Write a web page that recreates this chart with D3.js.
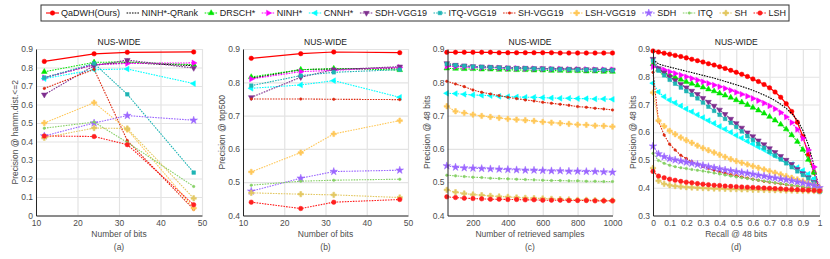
<!DOCTYPE html>
<html>
<head>
<meta charset="UTF-8">
<title>NUS-WIDE precision comparison</title>
<script src="https://cdn.jsdelivr.net/npm/d3@7"></script>
<style>
  body { margin: 0; background: #fff; }
  svg { font-family: "Liberation Sans", Arial, sans-serif; }
</style>
</head>
<body>
<svg width="830" height="259"></svg>
<script>
// ---- data -------------------------------------------------------------
const methods = ["QaDWH(Ours)", "NINH*-QRank", "DRSCH*", "NINH*", "CNNH*", "SDH-VGG19",
  "ITQ-VGG19", "SH-VGG19", "LSH-VGG19", "SDH", "ITQ", "SH", "LSH"];
const colors = ["#ff0000", "#000000", "#00e600", "#ff00ff", "#00ffff", "#7e2f8e",
  "#1fb4b4", "#dd2a12", "#ffc85a", "#9b66ff", "#86d066", "#e3c863", "#ff1f1f"];
const markers = ["circle", "none", "up", "right", "left", "down",
  "square", "dot", "cross", "star", "dot", "cross", "circle"];

const bits = [12, 24, 32, 48];
const hammPrec = [
  [0.833, 0.874, 0.882, 0.884],
  [0.745, 0.815, 0.826, 0.810],
  [0.777, 0.828, 0.830, 0.815],
  [0.745, 0.815, 0.822, 0.825],
  [0.740, 0.788, 0.792, 0.713],
  [0.653, 0.810, 0.840, 0.797],
  [0.745, 0.822, 0.655, 0.232],
  [0.687, 0.790, 0.405, 0.033],
  [0.500, 0.610, 0.465, 0.040],
  [0.430, 0.500, 0.540, 0.515],
  [0.472, 0.505, 0.395, 0.157],
  [0.420, 0.473, 0.470, 0.093],
  [0.430, 0.427, 0.383, 0.058]
];
const top500Prec = [
  [0.872, 0.886, 0.891, 0.889],
  [0.812, 0.838, 0.840, 0.843],
  [0.816, 0.838, 0.841, 0.837],
  [0.810, 0.832, 0.836, 0.845],
  [0.782, 0.792, 0.805, 0.755],
  [0.755, 0.815, 0.838, 0.847],
  [0.790, 0.820, 0.830, 0.838],
  [0.750, 0.750, 0.749, 0.748],
  [0.531, 0.589, 0.645, 0.685],
  [0.473, 0.512, 0.532, 0.536],
  [0.491, 0.503, 0.506, 0.509],
  [0.468, 0.464, 0.462, 0.454],
  [0.440, 0.421, 0.440, 0.448]
];

const samples = [50, 100, 150, 200, 250, 300, 350, 400, 450, 500,
  550, 600, 650, 700, 750, 800, 850, 900, 950, 1000];
const samplePrec = [
  [0.890, 0.890, 0.890, 0.890, 0.890, 0.890, 0.889, 0.889, 0.889, 0.889, 0.889, 0.889, 0.889, 0.888, 0.888, 0.888, 0.888, 0.888, 0.888, 0.888],
  [0.850, 0.848, 0.847, 0.846, 0.845, 0.845, 0.844, 0.843, 0.843, 0.842, 0.842, 0.841, 0.841, 0.840, 0.840, 0.840, 0.839, 0.839, 0.838, 0.838],
  [0.842, 0.841, 0.840, 0.840, 0.839, 0.839, 0.838, 0.838, 0.837, 0.837, 0.836, 0.836, 0.835, 0.835, 0.834, 0.834, 0.833, 0.833, 0.832, 0.832],
  [0.848, 0.847, 0.846, 0.845, 0.844, 0.844, 0.843, 0.842, 0.842, 0.841, 0.841, 0.840, 0.840, 0.840, 0.839, 0.839, 0.839, 0.838, 0.838, 0.838],
  [0.767, 0.766, 0.764, 0.762, 0.761, 0.760, 0.758, 0.757, 0.756, 0.755, 0.755, 0.754, 0.753, 0.752, 0.752, 0.751, 0.751, 0.750, 0.750, 0.749],
  [0.857, 0.852, 0.850, 0.848, 0.847, 0.846, 0.845, 0.844, 0.843, 0.843, 0.842, 0.842, 0.841, 0.841, 0.840, 0.840, 0.839, 0.839, 0.838, 0.838],
  [0.855, 0.851, 0.849, 0.847, 0.846, 0.845, 0.844, 0.843, 0.842, 0.842, 0.841, 0.840, 0.840, 0.839, 0.839, 0.838, 0.838, 0.837, 0.837, 0.836],
  [0.803, 0.795, 0.787, 0.777, 0.770, 0.765, 0.760, 0.755, 0.751, 0.747, 0.744, 0.740, 0.737, 0.734, 0.731, 0.727, 0.725, 0.722, 0.720, 0.717],
  [0.728, 0.713, 0.708, 0.703, 0.699, 0.696, 0.693, 0.690, 0.688, 0.686, 0.684, 0.681, 0.679, 0.677, 0.675, 0.673, 0.672, 0.670, 0.669, 0.667],
  [0.549, 0.545, 0.543, 0.542, 0.541, 0.540, 0.539, 0.538, 0.537, 0.536, 0.536, 0.535, 0.534, 0.534, 0.533, 0.533, 0.532, 0.532, 0.531, 0.530],
  [0.521, 0.519, 0.517, 0.515, 0.514, 0.512, 0.511, 0.510, 0.509, 0.508, 0.507, 0.506, 0.505, 0.505, 0.504, 0.504, 0.503, 0.503, 0.502, 0.502],
  [0.477, 0.470, 0.466, 0.463, 0.461, 0.459, 0.457, 0.456, 0.454, 0.453, 0.452, 0.451, 0.450, 0.449, 0.448, 0.447, 0.447, 0.446, 0.445, 0.445],
  [0.456, 0.454, 0.452, 0.451, 0.450, 0.449, 0.449, 0.448, 0.448, 0.447, 0.447, 0.446, 0.446, 0.446, 0.445, 0.445, 0.445, 0.444, 0.444, 0.444]
];

const recall = [0, 0.033, 0.067, 0.1, 0.133, 0.167, 0.2, 0.233, 0.267, 0.3, 0.333, 0.367, 0.4, 0.433, 0.467,
  0.5, 0.533, 0.567, 0.6, 0.633, 0.667, 0.7, 0.733, 0.767, 0.8, 0.833, 0.867, 0.9, 0.933, 0.967, 1];
const recallPrec = [
  [0.893, 0.889, 0.885, 0.881, 0.877, 0.873, 0.868, 0.863, 0.858, 0.853, 0.847, 0.842, 0.836, 0.830, 0.823, 0.816, 0.809, 0.801, 0.792, 0.783, 0.772, 0.760, 0.745, 0.726, 0.703, 0.675, 0.636, 0.585, 0.520, 0.455, 0.390],
  [0.862, 0.846, 0.840, 0.835, 0.830, 0.825, 0.820, 0.815, 0.810, 0.805, 0.800, 0.795, 0.789, 0.783, 0.777, 0.771, 0.765, 0.758, 0.751, 0.743, 0.734, 0.725, 0.714, 0.701, 0.686, 0.668, 0.643, 0.607, 0.555, 0.480, 0.390],
  [0.846, 0.826, 0.815, 0.806, 0.798, 0.790, 0.782, 0.775, 0.769, 0.762, 0.755, 0.748, 0.740, 0.733, 0.725, 0.716, 0.708, 0.699, 0.689, 0.679, 0.668, 0.656, 0.643, 0.628, 0.611, 0.590, 0.566, 0.537, 0.501, 0.455, 0.390],
  [0.836, 0.830, 0.825, 0.818, 0.812, 0.806, 0.800, 0.794, 0.788, 0.782, 0.776, 0.770, 0.764, 0.758, 0.751, 0.744, 0.737, 0.730, 0.722, 0.714, 0.705, 0.695, 0.684, 0.671, 0.655, 0.635, 0.610, 0.578, 0.536, 0.475, 0.390],
  [0.777, 0.745, 0.728, 0.716, 0.706, 0.695, 0.684, 0.674, 0.663, 0.653, 0.642, 0.632, 0.621, 0.611, 0.600, 0.589, 0.579, 0.568, 0.558, 0.547, 0.537, 0.526, 0.515, 0.505, 0.494, 0.484, 0.473, 0.462, 0.449, 0.432, 0.390],
  [0.864, 0.830, 0.815, 0.800, 0.787, 0.773, 0.761, 0.749, 0.737, 0.723, 0.709, 0.695, 0.681, 0.665, 0.648, 0.632, 0.616, 0.599, 0.585, 0.570, 0.556, 0.542, 0.528, 0.514, 0.500, 0.485, 0.467, 0.452, 0.437, 0.420, 0.390],
  [0.858, 0.822, 0.805, 0.789, 0.775, 0.761, 0.748, 0.735, 0.722, 0.707, 0.692, 0.677, 0.663, 0.648, 0.634, 0.619, 0.603, 0.586, 0.572, 0.558, 0.544, 0.530, 0.516, 0.502, 0.488, 0.474, 0.459, 0.446, 0.433, 0.416, 0.385],
  [0.816, 0.640, 0.590, 0.557, 0.536, 0.517, 0.505, 0.494, 0.485, 0.477, 0.470, 0.463, 0.458, 0.452, 0.447, 0.443, 0.439, 0.435, 0.431, 0.427, 0.423, 0.420, 0.417, 0.414, 0.411, 0.408, 0.405, 0.402, 0.399, 0.396, 0.393],
  [0.743, 0.642, 0.622, 0.605, 0.593, 0.581, 0.571, 0.562, 0.552, 0.543, 0.535, 0.527, 0.519, 0.511, 0.503, 0.496, 0.490, 0.484, 0.478, 0.472, 0.466, 0.460, 0.454, 0.448, 0.442, 0.436, 0.430, 0.424, 0.417, 0.410, 0.400],
  [0.550, 0.522, 0.512, 0.505, 0.500, 0.496, 0.492, 0.488, 0.484, 0.480, 0.476, 0.472, 0.468, 0.464, 0.461, 0.458, 0.455, 0.452, 0.449, 0.445, 0.442, 0.438, 0.435, 0.432, 0.429, 0.425, 0.421, 0.417, 0.413, 0.408, 0.400],
  [0.524, 0.498, 0.488, 0.481, 0.476, 0.472, 0.469, 0.466, 0.463, 0.460, 0.457, 0.453, 0.450, 0.446, 0.442, 0.439, 0.436, 0.433, 0.430, 0.427, 0.424, 0.421, 0.418, 0.415, 0.412, 0.409, 0.406, 0.403, 0.399, 0.395, 0.390],
  [0.471, 0.425, 0.414, 0.409, 0.406, 0.404, 0.402, 0.401, 0.400, 0.399, 0.398, 0.397, 0.397, 0.396, 0.395, 0.395, 0.394, 0.394, 0.393, 0.393, 0.392, 0.392, 0.391, 0.391, 0.390, 0.390, 0.389, 0.389, 0.388, 0.388, 0.387],
  [0.459, 0.442, 0.436, 0.431, 0.427, 0.423, 0.420, 0.418, 0.415, 0.413, 0.411, 0.409, 0.408, 0.406, 0.405, 0.404, 0.403, 0.402, 0.401, 0.400, 0.399, 0.398, 0.397, 0.396, 0.395, 0.394, 0.393, 0.392, 0.391, 0.390, 0.388]
];

const bitTicks = [10, 20, 30, 40, 50];
const sampleTicks = [200, 400, 600, 800, 1000];
const recallTicks = [0, 0.1, 0.2, 0.3, 0.4, 0.5, 0.6, 0.7, 0.8, 0.9, 1];
const yTicksA = [0, 0.1, 0.2, 0.3, 0.4, 0.5, 0.6, 0.7, 0.8, 0.9];
const yTicksBC = [0.4, 0.5, 0.6, 0.7, 0.8, 0.9];
const yTicksD = [0.3, 0.4, 0.5, 0.6, 0.7, 0.8, 0.9];

// ---- layout -----------------------------------------------------------
const svg = d3.select("svg");
const plotTop = 49, plotBottom = 215.5;

const panels = [
  { x0: 36, x1: 202, xs: bits, ys: hammPrec, xDom: [10, 50], yDom: [0, 0.9],
    xt: bitTicks, yt: yTicksA, xLabel: "Number of bits", yLabel: "Precision @ hamm.dist.<=2",
    yLabelX: 15, tag: "(a)" },
  { x0: 243, x1: 408, xs: bits, ys: top500Prec, xDom: [10, 50], yDom: [0.4, 0.9],
    xt: bitTicks, yt: yTicksBC, xLabel: "Number of bits", yLabel: "Precision @ top500",
    yLabelX: 222, tag: "(b)" },
  { x0: 447.5, x1: 612.5, xs: samples, ys: samplePrec, xDom: [54, 1000], yDom: [0.4, 0.9],
    xt: sampleTicks, yt: yTicksBC, xLabel: "Number of retrieved samples", yLabel: "Precision @ 48 bits",
    yLabelX: 427, tag: "(c)" },
  { x0: 653, x1: 819.5, xs: recall, ys: recallPrec, xDom: [0, 1], yDom: [0.3, 0.9],
    xt: recallTicks, yt: yTicksD, xLabel: "Recall @ 48 bits", yLabel: "Precision @ 48 bits",
    yLabelX: 633, tag: "(d)" }
];

function drawMarker(g, type, color, x, y) {
  if (type === "none") return;
  let sym, size, rot = 0;
  if (type === "circle") { sym = d3.symbolCircle; size = 16; }
  else if (type === "dot") { sym = d3.symbolCircle; size = 5; }
  else if (type === "square") { sym = d3.symbolSquare; size = 13; }
  else if (type === "cross") { sym = d3.symbolCross; size = 16; }
  else if (type === "star") { sym = d3.symbolStar; size = 18; }
  else { sym = d3.symbolTriangle; size = 14;
    rot = { up: 0, right: 90, down: 180, left: -90 }[type]; }
  g.append("path")
    .attr("d", d3.symbol().type(sym).size(size)())
    .attr("transform", `translate(${x},${y}) rotate(${rot})`)
    .attr("fill", color)
    .attr("stroke", color)
    .attr("stroke-width", 0.5);
}

panels.forEach(p => {
  const x = d3.scaleLinear().domain(p.xDom).range([p.x0, p.x1]);
  const y = d3.scaleLinear().domain(p.yDom).range([plotBottom, plotTop]);
  const g = svg.append("g");

  // grid
  g.append("g")
    .attr("transform", `translate(0,${plotBottom})`)
    .call(d3.axisBottom(x).tickValues(p.xt).tickSize(-(plotBottom - plotTop)).tickFormat(""))
    .call(s => s.select(".domain").remove())
    .selectAll("line").attr("stroke", "#e3e3e3").attr("stroke-width", 1.2);
  g.append("g")
    .attr("transform", `translate(${p.x0},0)`)
    .call(d3.axisLeft(y).tickValues(p.yt).tickSize(-(p.x1 - p.x0)).tickFormat(""))
    .call(s => s.select(".domain").remove())
    .selectAll("line").attr("stroke", "#e3e3e3").attr("stroke-width", 1.2);

  // series
  const line = d3.line().x((d, i) => x(p.xs[i])).y(d => y(d));
  p.ys.forEach((vals, k) => {
    const s = g.append("g");
    s.append("path")
      .datum(vals)
      .attr("d", line)
      .attr("fill", "none")
      .attr("stroke", colors[k])
      .attr("stroke-width", k === 0 ? 1.2 : 1.1)
      .attr("stroke-dasharray", k === 0 ? null : "1.6,1.1");
    vals.forEach((v, i) => drawMarker(s, markers[k], colors[k], x(p.xs[i]), y(v)));
  });

  // axes
  const fmt = d => String(+d.toFixed(2));
  g.append("g")
    .attr("transform", `translate(0,${plotBottom})`)
    .call(d3.axisBottom(x).tickValues(p.xt).tickSize(0).tickPadding(4).tickFormat(fmt))
    .call(s => s.select(".domain").attr("stroke", "#262626"))
    .selectAll("text").attr("fill", "#4d4d4d").attr("font-size", 8.5)
    .attr("font-family", "Liberation Sans, Arial, sans-serif");
  g.append("g")
    .attr("transform", `translate(${p.x0},0)`)
    .call(d3.axisLeft(y).tickValues(p.yt).tickSize(0).tickPadding(3).tickFormat(fmt))
    .call(s => s.select(".domain").attr("stroke", "#262626"))
    .selectAll("text").attr("fill", "#4d4d4d").attr("font-size", 8.5)
    .attr("font-family", "Liberation Sans, Arial, sans-serif");

  const cx = (p.x0 + p.x1) / 2;
  g.append("text").attr("x", cx).attr("y", 45).attr("text-anchor", "middle")
    .attr("font-size", 8.5).attr("fill", "#1a1a1a").text("NUS-WIDE");
  g.append("text").attr("x", cx).attr("y", 237).attr("text-anchor", "middle")
    .attr("font-size", 8.5).attr("fill", "#4d4d4d").text(p.xLabel);
  g.append("text").attr("x", cx).attr("y", 250).attr("text-anchor", "middle")
    .attr("font-size", 8.5).attr("fill", "#4d4d4d").text(p.tag);
  g.append("text")
    .attr("transform", `translate(${p.yLabelX},${(plotTop + plotBottom) / 2}) rotate(-90)`)
    .attr("text-anchor", "middle").attr("dy", "0.35em")
    .attr("font-size", 8.5).attr("fill", "#4d4d4d").text(p.yLabel);
});

// ---- legend -----------------------------------------------------------
const legX0 = 41, legX1 = 789, legY0 = 5, legY1 = 21;
const legend = svg.append("g");
legend.append("rect")
  .attr("x", legX0).attr("y", legY0)
  .attr("width", legX1 - legX0).attr("height", legY1 - legY0)
  .attr("fill", "#fff").attr("stroke", "#333").attr("stroke-width", 1);

const items = legend.selectAll("g.item").data(methods).enter().append("g").attr("class", "item");
items.append("text")
  .attr("font-size", 9).attr("fill", "#222").attr("dy", "0.35em")
  .text(d => d);
const widths = [];
items.select("text").each(function () { widths.push(this.getComputedTextLength()); });
const lineLen = 13, textGap = 2;
const used = d3.sum(widths) + methods.length * (lineLen + textGap);
const gap = (legX1 - legX0 - 8 - used) / (methods.length - 1);
let cur = legX0 + 5;
const legCy = (legY0 + legY1) / 2;
items.each(function (d, k) {
  const it = d3.select(this);
  it.append("line")
    .attr("x1", cur).attr("x2", cur + lineLen).attr("y1", legCy).attr("y2", legCy)
    .attr("stroke", colors[k]).attr("stroke-width", 1.1)
    .attr("stroke-dasharray", k === 0 ? null : "1.6,1.1");
  drawMarker(it, markers[k], colors[k], cur + lineLen / 2, legCy);
  it.select("text").attr("x", cur + lineLen + textGap).attr("y", legCy);
  cur += lineLen + textGap + widths[k] + gap;
});
</script>
</body>
</html>
